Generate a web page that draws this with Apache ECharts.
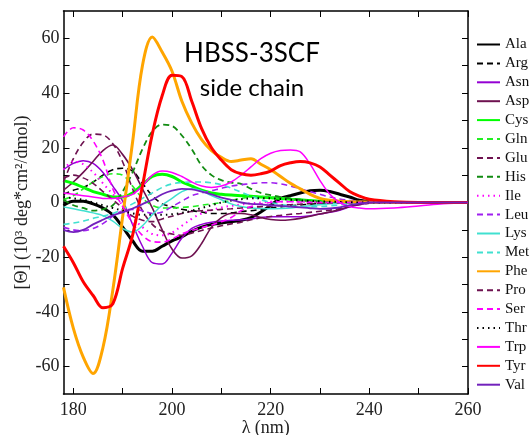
<!DOCTYPE html>
<html><head><meta charset="utf-8">
<script src="https://cdn.jsdelivr.net/npm/echarts@6/dist/echarts.min.js"></script>
<style>html,body{margin:0;padding:0;background:#fff}#c{width:532px;height:435px}</style>
</head><body><div id="c"></div>
<script>
// wavelength grid (nm)
const wavelength = [178,180,182,184,186,188,190,192,194,196,198,200,202,204,206,208,210,212,214,216,218,220,222,224,226,228,230,232,234,236,238,240,245,250,255,260];

const Ala = [-1,0.5,0.5,-0.5,-2,-4.5,-9,-14,-17.8,-17.8,-16,-14,-12.5,-10.5,-9,-8,-7.5,-7,-6.5,-5.5,-3.5,-1,1.5,2.5,3.5,4.3,4.5,4,3,2,0.8,0.3,0,0,0,0];
const Arg = [3,4.5,5.5,7.5,10,12,12.5,11.5,7,2.5,-0.5,-1.5,-2.5,-3,-3.5,-4,-4,-3.8,-3.3,-3,-2.5,-2,-1.6,-1.2,-0.9,-0.6,-0.4,-0.2,-0.1,0,0,0,0,0,0,0];
const Asn = [12,14.3,15.3,14.3,11,6,0.5,-8,-16,-22,-22.5,-18.5,-13,-9.5,-8,-7.2,-6.8,-6.5,-6.3,-6,-5.5,-5.2,-5.2,-5.2,-5.2,-4.8,-4.2,-3.6,-2.8,-1.6,-0.7,-0.3,0,0,0,0];
const Asp = [4.5,7.5,11,15,19,21,17.5,12,5,-2,-10,-17,-20.3,-19.5,-15,-9,-5.5,-4,-4,-4.5,-5.5,-6.2,-6.5,-6.3,-5.8,-5,-4.2,-3.5,-2.6,-1.5,-0.6,-0.2,0,0,0,0];
const Cys = [8,7,5.5,4,3,2,2,3.5,6.5,9.5,10.3,9.5,7.5,6,4.5,3.5,3,2.7,2.5,2.3,2,1.7,1.5,1.2,1,0.7,0.5,0.3,0.2,0.1,0,0,0,0,0,0];
const Gln = [1,2.5,5,7.5,9.5,10.5,10,6,1.5,-1,-2,-2,-1.8,-1.5,-1,-0.5,0,0.8,1.5,2,2.2,2,1.7,1.3,1,0.7,0.5,0.3,0.2,0.1,0,0,0,0,0,0];
const Glu = [7.5,16,22,25,24.7,21.5,14.8,5,-3,-8,-10.5,-11.5,-12,-11.2,-10.2,-9.3,-8.5,-7.8,-7.2,-6.3,-5.6,-5.1,-4.7,-4.3,-4,-3.6,-3.2,-2.8,-2.2,-1.5,-0.8,-0.3,0,0,0,0];
const His = [1,-1,-2,-3,-2.5,-1,4,11,19.5,26,28.5,28,24.5,19.5,13.5,10,8.2,7.3,6.8,5,3.5,2.7,2,1.5,1,0.5,0.3,0.2,0.1,0,0,0,0,0,0,0];
const Ile = [12,15,14,11,7,3,-1,-5.5,-9,-11.5,-12,-11,-8.5,-6,-4,-2.8,-1.8,-1.2,-0.7,-0.3,0,0.3,0.4,0.4,0.3,0.2,0.1,0,0,0,0,0,0,0,0,0];
const Leu = [-9,-10,-10.3,-9.5,-7.7,-5,-3,-2.5,-3,-4,-3.5,-1.5,0.5,2.5,3.5,4.3,5.2,6,6.5,6.9,7.2,7.2,6.8,6,5,4,3,2,1.3,0.8,0.4,0.2,0,0,0,0];
const Lys = [-1.6,-2.3,-3,-3.8,-4.8,-6.8,-9.5,-10.8,-8.5,-4.5,-1,1.5,4,5,4.3,2.5,1,-0.5,-1.5,-2,-2.2,-2.3,-2.2,-2,-1.6,-1.2,-0.8,-0.5,-0.3,-0.1,0,0,0,0,0,0];
const Met = [-8,-7.5,-6.8,-5.8,-5,-4,-2.5,-0.5,1.5,3.5,5.5,6.8,7.3,7.5,7.5,7.2,6.5,5.3,3.8,2.3,1,0,-0.7,-1.2,-1.5,-1.6,-1.5,-1.2,-0.9,-0.5,-0.3,0,0,0,0,0];
const Phe = [-31,-46,-56.5,-62.5,-53,-32,-5,22,50,60.5,55,48,37,29,23,19,16.5,15,15.5,16,14,12,9.5,7,5,3,1.5,0.8,0.5,0.3,0.2,0.2,0,0,0,0];
const Pro = [9,10,9,7,4,1,-2,-5,-6.5,-7,-6,-5,-4,-3.3,-3,-2.8,-2.5,-2.3,-2,-1.8,-1.5,-1.3,-1,-0.8,-0.6,-0.4,-0.3,-0.2,-0.1,0,0,0,0,0,0,0];
const Ser = [24,27.3,26.5,22.5,15.5,5,-1.5,-7.5,-12,-14.3,-14.5,-13.3,-11.5,-10.2,-9.2,-8.2,-7,-5.5,-3,-1.5,-0.5,0,0.3,0.3,0.2,0.1,0,0,0,0,0,0,0,0,0,0];
const Thr = [2,1.5,1,0,-1,-2,-3,-4,-4.5,-4.5,-4.5,-4.3,-3.8,-3,-2,-1,0,0.7,1.2,1.5,1.6,1.5,1.3,1,0.8,0.6,0.4,0.3,0.2,0.1,0,0,0,0,0,0];
const Trp = [3.5,3,2.5,2,1.5,1.5,2,3,6,10,11.5,11,9.5,7.5,6,5.5,6,7.5,10,13,16,18,19,19.2,18.5,14,8,3,0,-1.5,-2,-2.3,-2,-1.3,-0.5,0];
const Tyr = [-16,-22,-29,-34,-38.5,-37,-24,-12,6,25,39,46.5,46,37,27,20,15.5,12,10.5,10,10.5,11.5,13.5,14.5,15,14.5,13,10,7,4,2.3,1.2,0.3,0,0,0];
const Val = [-10,-10.8,-10,-8,-6.3,-4.7,-3.6,-2.2,-0.6,1,3,4.3,5,4.8,4,3,1.8,1,0,-0.5,-0.7,-1,-1.2,-1.5,-1.8,-2.1,-2.3,-2.2,-1.8,-1,-0.4,0,0,0,0,0];

const seriesNames = ['Ala','Arg','Asn','Asp','Cys','Gln','Glu','His','Ile','Leu','Lys','Met','Phe','Pro','Ser','Thr','Trp','Tyr','Val'];
const seriesValues = [Ala,Arg,Asn,Asp,Cys,Gln,Glu,His,Ile,Leu,Lys,Met,Phe,Pro,Ser,Thr,Trp,Tyr,Val];

const xTickValues = [180,190,200,210,220,230,240,250,260];
const xLabelValues = [180,200,220,240,260];
const yTickValues = [-60,-50,-40,-30,-20,-10,0,10,20,30,40,50,60];
const yLabelValues = [-60,-40,-20,0,20,40,60];

const DASH = [6,4], DOT = [1.5,4];
const styles = {
  Ala:{c:'#000000',w:3,t:'solid'},
  Arg:{c:'#000000',w:1.6,t:DASH},
  Asn:{c:'#9400d3',w:1.5,t:'solid'},
  Asp:{c:'#6e1250',w:1.6,t:'solid'},
  Cys:{c:'#00ff00',w:3,t:'solid'},
  Gln:{c:'#22ee22',w:1.6,t:DASH},
  Glu:{c:'#6e1250',w:1.6,t:DASH},
  His:{c:'#118b11',w:1.8,t:DASH},
  Ile:{c:'#ff00ff',w:2,t:DOT},
  Leu:{c:'#a020f0',w:1.6,t:DASH},
  Lys:{c:'#40e0d0',w:1.5,t:'solid'},
  Met:{c:'#40e0d0',w:1.6,t:DASH},
  Phe:{c:'#ffa500',w:3,t:'solid'},
  Pro:{c:'#6e1250',w:1.6,t:DASH},
  Ser:{c:'#ff00ff',w:1.6,t:DASH},
  Thr:{c:'#000000',w:2,t:DOT},
  Trp:{c:'#ff00ff',w:1.5,t:'solid'},
  Tyr:{c:'#ff0000',w:3,t:'solid'},
  Val:{c:'#7221bc',w:1.8,t:'solid'}
};

const serif = 'Liberation Serif';
const series = seriesNames.map((n,i)=>({
  name:n, type:'line', xAxisIndex:0, yAxisIndex:0,
  data: wavelength.map((x,j)=>[x, seriesValues[i][j]]),
  showSymbol:false, symbol:'none', smooth:0.35, animation:false,
  lineStyle:{color:styles[n].c, width:styles[n].w, type:styles[n].t},
  itemStyle:{color:styles[n].c}
}));

const axisLine = {show:true, onZero:false, lineStyle:{color:'#000', width:1.5}};
const chart = echarts.init(document.getElementById('c'), null, {renderer:'canvas'});
chart.setOption({
  animation:false,
  backgroundColor:'#fff',
  grid:{left:63.5, right:64, top:11, bottom:41, containLabel:false, outerBoundsMode:'none'},
  xAxis:[
    {type:'value', min:178, max:260, position:'bottom', axisLine,
     axisTick:{show:true, inside:true, length:6, customValues:xTickValues, lineStyle:{color:'#000', width:1}},
     axisLabel:{customValues:xLabelValues, fontFamily:serif, fontSize:18, color:'#222', margin:7},
     splitLine:{show:false},
     name:'λ (nm)', nameLocation:'middle', nameGap:25, nameMoveOverlap:false,
     nameTextStyle:{fontFamily:serif, fontSize:18, color:'#222'}},
    {type:'value', min:178, max:260, position:'top', axisLine,
     axisTick:{show:true, inside:true, length:6, customValues:xTickValues, lineStyle:{color:'#000', width:1}},
     axisLabel:{show:false}, splitLine:{show:false}}
  ],
  yAxis:[
    {type:'value', min:-70, max:70, position:'left', axisLine,
     axisTick:{show:true, inside:true, length:6, customValues:yTickValues, lineStyle:{color:'#000', width:1}},
     axisLabel:{customValues:yLabelValues, fontFamily:serif, fontSize:18, color:'#222', margin:4},
     splitLine:{show:false},
     name:'[Θ] (10³ deg*cm²/dmol)', nameLocation:'middle', nameGap:32, nameRotate:90, nameMoveOverlap:false,
     nameTextStyle:{fontFamily:serif, fontSize:18, color:'#222'}},
    {type:'value', min:-70, max:70, position:'right', axisLine,
     axisTick:{show:true, inside:true, length:6, customValues:yTickValues, lineStyle:{color:'#000', width:1}},
     axisLabel:{show:false}, splitLine:{show:false}}
  ],
  legend:{
    orient:'vertical', left:476, top:37, padding:0, itemWidth:23, itemHeight:14, itemGap:3.9,
    itemStyle:{opacity:0},
    textStyle:{fontFamily:serif, fontSize:15, color:'#111'},
    data:seriesNames, selectedMode:false
  },
  graphic:[
    {type:'text', style:{text:'HBSS-3SCF', fontFamily:'Lato', fontSize:26, fill:'#000', textAlign:'center', textVerticalAlign:'middle'}, x:252, y:54},
    {type:'text', style:{text:'side chain', fontFamily:'Lato', fontSize:24, fill:'#000', textAlign:'center', textVerticalAlign:'middle'}, x:252, y:88}
  ],
  series
});
</script></body></html>
